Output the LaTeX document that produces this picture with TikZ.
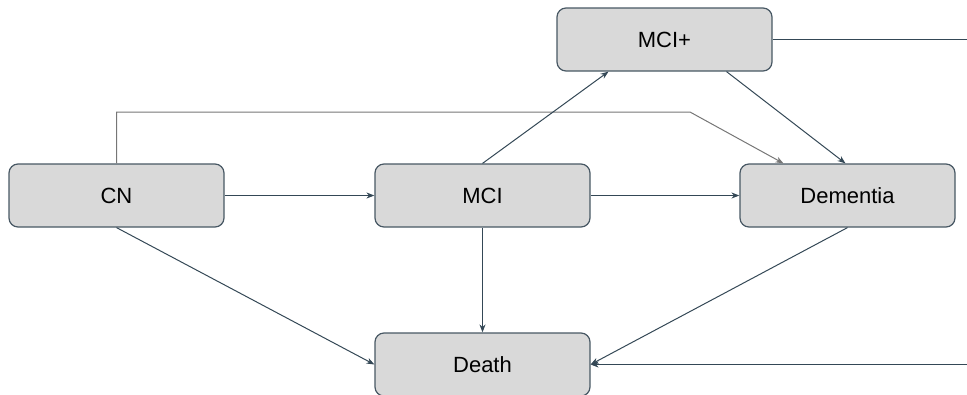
\documentclass[tikz,border=0pt]{standalone}
\usepackage{fontspec}
\setmainfont{Liberation Sans}
\usetikzlibrary{arrows.meta}
\definecolor{stateFill}{RGB}{217,217,217}
\definecolor{stateEdge}{RGB}{72,88,100}
\definecolor{flowDark}{RGB}{52,72,86}
\definecolor{flowGrey}{RGB}{118,118,118}
\tikzset{
  state/.style={draw=stateEdge,fill=stateFill,line width=1.2pt,rounded corners=9pt,
    minimum width=215pt,minimum height=63pt,inner sep=0pt,font=\fontsize{22}{26}\selectfont},
  flow/.style={draw=flowDark,line width=1pt,-{Stealth[length=8pt,width=6pt]}},
  flowgrey/.style={draw=flowGrey,line width=1pt,-{Stealth[length=8pt,width=6pt]}}
}
\begin{document}
\begin{tikzpicture}[x=1pt,y=-1pt]

    \useasboundingbox (0,0) rectangle (967,394);

    \node[state] (cn) at (116.5,195.5) {CN};
    \node[state] (mci) at (482.5,195.5) {MCI};
    \node[state] (dementia) at (847.5,195.5) {Dementia};
    \node[state] (mciplus) at (664.5,39.5) {MCI+};
    \node[state] (death) at (482.5,364.5) {Death};

    \coordinate (bend) at (690,112);
    \coordinate (outtop) at (967,39.5);
    \coordinate (inbottom) at (967,364.5);

    \draw[flow] (cn) -- (mci);
    \draw[flow] (mci) -- (dementia);
    \draw[flowgrey] (cn.north) |- (bend) -- ([xshift=-64pt]dementia.north);
    \draw[flow] (mci.north) -- ([xshift=-56pt]mciplus.south);
    \draw[flow] ([xshift=62pt]mciplus.south) -- ([xshift=-2pt]dementia.north);
    \draw[draw=flowDark,line width=1pt] (mciplus.east) -- (outtop);
    \draw[flow] (cn.south) -- (death.west);
    \draw[flow] (mci.south) -- (death.north);
    \draw[flow] (dementia.south) -- (death.east);
    \draw[flow] (inbottom) -- (death.east);

  \end{tikzpicture}
\end{document}
